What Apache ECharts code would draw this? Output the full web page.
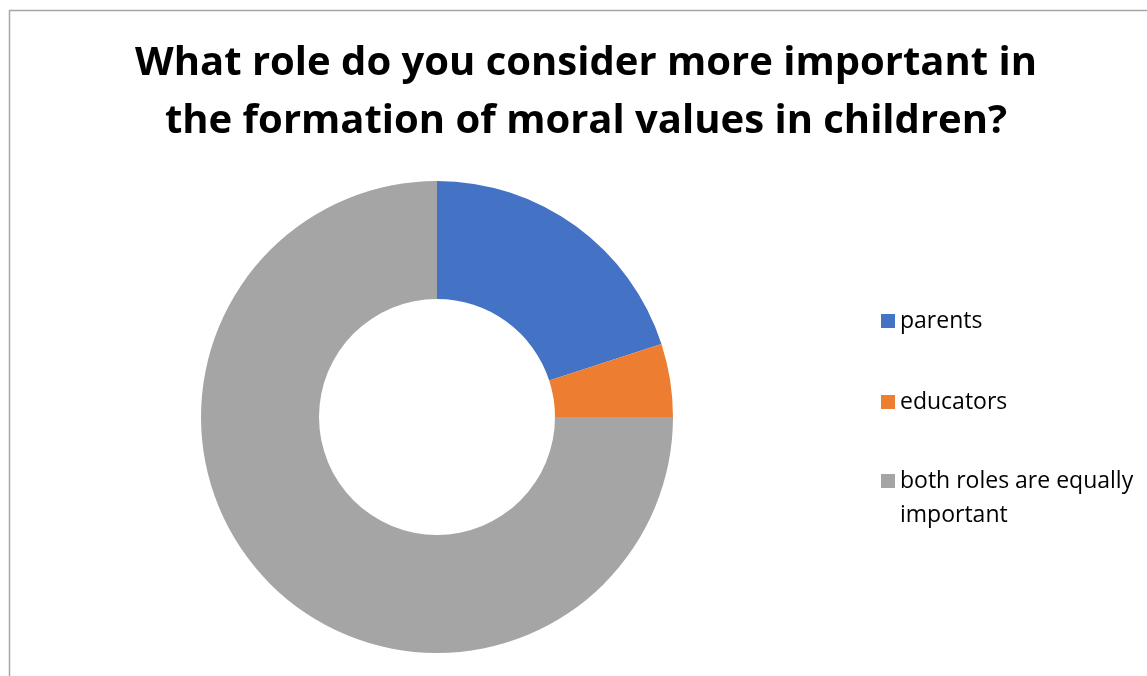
<!DOCTYPE html>
<html>
<head>
<meta charset="utf-8">
<script src="https://cdn.jsdelivr.net/npm/echarts@6/dist/echarts.min.js"></script>
<style>
html,body{margin:0;padding:0;background:#fff;}
#chart{width:1147px;height:676px;}
</style>
</head>
<body>
<div id="chart"></div>
<script>
const titleText = 'What role do you consider more important in\nthe formation of moral values in children?';
const categories = ['parents', 'educators', 'both roles are equally important'];
const values = [20, 5, 75];
const colors = ['#4472C4', '#ED7D31', '#A5A5A5'];

const chart = echarts.init(document.getElementById('chart'));
const font = '"Open Sans", "Liberation Sans", sans-serif';
const txt = { fontFamily: font, fontSize: 23, color: '#000', lineHeight: 34 };
const legendBase = {
  orient: 'vertical',
  left: 876,
  itemWidth: 14,
  itemHeight: 14,
  icon: 'rect',
  selectedMode: false,
  textStyle: Object.assign({}, txt)
};
chart.setOption({
  backgroundColor: '#fff',
  color: colors,
  title: {
    text: titleText,
    left: 586,
    textAlign: 'center',
    top: 35,
    padding: 0,
    textStyle: { fontFamily: font, fontWeight: 'bold', fontSize: 40, color: '#000', lineHeight: 58 }
  },
  graphic: [{
    type: 'rect',
    shape: { x: 9.5, y: 10.5, width: 2000, height: 2000 },
    style: { fill: null, stroke: '#a6a6a6', lineWidth: 1.5 },
    silent: true
  }],
  legend: [
    Object.assign({}, legendBase, { top: 299, data: [categories[0]] }),
    Object.assign({}, legendBase, { top: 380, data: [categories[1]] }),
    Object.assign({}, legendBase, {
      top: 425, data: [categories[2]],
      formatter: function () { return '{s| }\n{a|both roles are equally}\n{a|important}'; },
      textStyle: Object.assign({}, txt, {
        rich: { s: Object.assign({}, txt), a: Object.assign({}, txt) }
      })
    })
  ],
  series: [{
    type: 'pie',
    center: [437, 417],
    radius: [118, 236],
    startAngle: 90,
    clockwise: true,
    label: { show: false },
    labelLine: { show: false },
    emphasis: { disabled: true },
    data: categories.map((c, i) => ({ name: c, value: values[i] }))
  }]
});
</script>
</body>
</html>
